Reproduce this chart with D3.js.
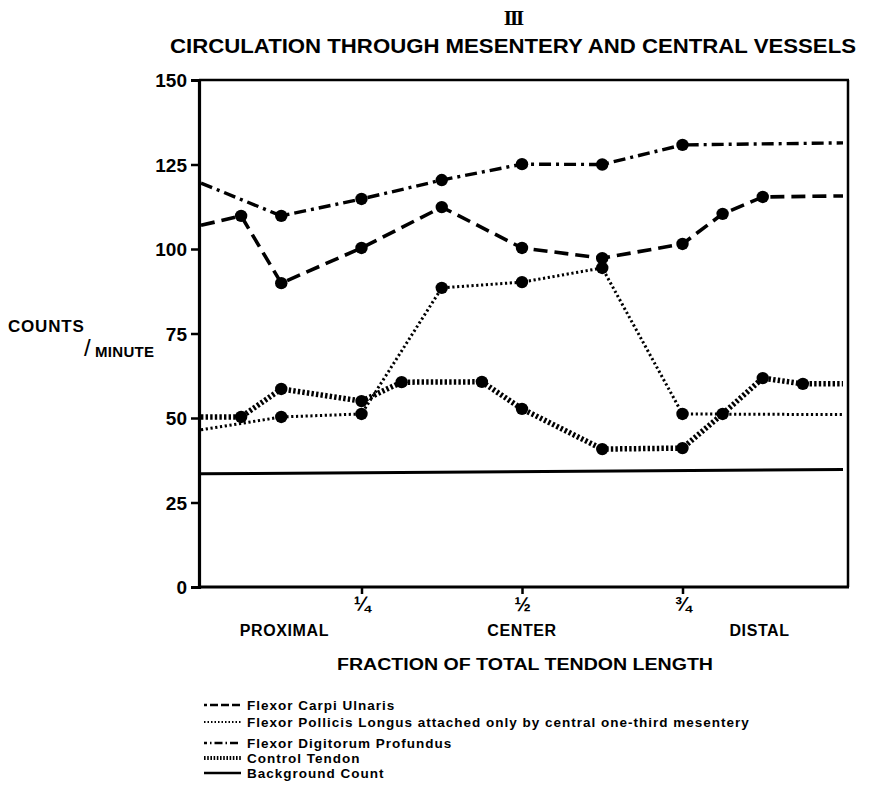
<!DOCTYPE html>
<html>
<head>
<meta charset="utf-8">
<script src="https://cdnjs.cloudflare.com/ajax/libs/d3/7.8.5/d3.min.js"></script>
<style>
  body { margin: 0; background: #fff; }
  text { font-family: "Liberation Sans", Arial, sans-serif; font-weight: bold; fill: #000; }
</style>
</head>
<body>
<div id="chart"></div>
<script>
// Data: x = fraction of tendon length, y = counts/minute
var fcuX = [0, 1/16, 1/8, 1/4, 3/8, 1/2, 5/8, 3/4, 13/16, 7/8, 1];
var fcuY = [107, 109.8, 89.9, 100.3, 112.4, 100.3, 97.3, 101.5, 110.4, 115.4, 115.7];

var fplX = [0, 1/8, 1/4, 3/8, 1/2, 5/8, 3/4, 1];
var fplY = [46.5, 50.3, 51.2, 88.5, 90.2, 94.4, 51.2, 51];

var fdpX = [0, 1/8, 1/4, 3/8, 1/2, 5/8, 3/4, 1];
var fdpY = [119.5, 109.8, 114.8, 120.4, 125.1, 125, 130.8, 131.4];

var ctlX = [0, 1/16, 1/8, 1/4, 5/16, 7/16, 1/2, 5/8, 3/4, 13/16, 7/8, 15/16, 1];
var ctlY = [50.3, 50.3, 58.6, 55, 60.6, 60.7, 52.7, 40.8, 41.1, 51.2, 61.8, 60.1, 60.1];

var bgX = [0, 1];
var bgY = [33.5, 34.8];

var yTicks = [0, 25, 50, 75, 100, 125, 150];
var xTicks = [1/4, 1/2, 3/4];
var xTickLabels = ["\u00BC", "\u00BD", "\u00BE"];
var regionLabels = ["PROXIMAL", "CENTER", "DISTAL"];
var regionPos = [0.13, 0.50, 0.87];

var seriesNames = [
  "Flexor Carpi Ulnaris",
  "Flexor Pollicis Longus attached only by central one-third mesentery",
  "Flexor Digitorum Profundus",
  "Control Tendon",
  "Background Count"
];

var width = 874, height = 787;

var svg = d3.select("#chart").append("svg")
  .attr("width", width)
  .attr("height", height);

var x = d3.scaleLinear().domain([0, 1]).range([201, 843]);
var y = d3.scaleLinear().domain([0, 150]).range([587, 80]);

// line styles, in legend order
var styles = [
  { x: fcuX, y: fcuY, width: 3.6, dash: "14,7", legendDash: "3,3,8,3,8,3,8,3", legendWidth: 2.6, dots: true },
  { x: fplX, y: fplY, width: 3, dash: "2.2,2.6", legendDash: "1.5,2", legendWidth: 2, dots: true },
  { x: fdpX, y: fdpY, width: 3.4, dash: "12,5,3,5", legendDash: "3,3,1.5,3,8,3,1.5,3,8,3", legendWidth: 2.6, dots: true },
  { x: ctlX, y: ctlY, width: 5.5, dash: "2.4,2.2", legendDash: "1.6,1.6", legendWidth: 4, dots: true },
  { x: bgX, y: bgY, width: 3, dash: null, legendDash: null, legendWidth: 2.6, dots: false }
];

// Title
svg.append("text")
  .attr("x", 513).attr("y", 25)
  .attr("text-anchor", "middle")
  .style("font-family", "'Liberation Serif', serif")
  .style("font-size", "21px")
  .style("letter-spacing", "-2px")
  .text("III");
svg.append("text")
  .attr("x", 513).attr("y", 53)
  .attr("text-anchor", "middle")
  .attr("textLength", 686)
  .attr("lengthAdjust", "spacingAndGlyphs")
  .style("font-size", "20px")
  .text("CIRCULATION THROUGH MESENTERY AND CENTRAL VESSELS");

// Frame (top and right sides)
var frame = svg.append("g").attr("class", "frame");
frame.append("line").attr("x1", 199).attr("x2", 849).attr("y1", y(150)).attr("y2", y(150))
  .attr("stroke", "#000").attr("stroke-width", 2.5);
frame.append("line").attr("x1", 848).attr("x2", 848).attr("y1", y(150)).attr("y2", y(0))
  .attr("stroke", "#000").attr("stroke-width", 2.5);

// Y axis
var yAxis = d3.axisLeft(y).tickValues(yTicks).tickSize(8).tickPadding(4).tickFormat(d3.format("d"));
var gy = svg.append("g")
  .attr("class", "y-axis")
  .attr("transform", "translate(199,0)")
  .call(yAxis);
gy.select(".domain").attr("stroke", "#000").attr("stroke-width", 3.2);
gy.selectAll(".tick line").attr("stroke", "#000").attr("stroke-width", 2.5);
gy.selectAll(".tick text")
  .style("font-family", "'Liberation Sans', Arial, sans-serif")
  .style("font-weight", "bold")
  .style("font-size", "19px")
  .attr("fill", "#000")
  .attr("dy", "0.36em");

// X axis, fraction tick labels
var xAxis = d3.axisBottom(x).tickValues(xTicks).tickSize(7).tickPadding(3)
  .tickFormat(function(d, i) { return xTickLabels[i]; });
var gx = svg.append("g")
  .attr("class", "x-axis")
  .attr("transform", "translate(0," + y(0) + ")")
  .call(xAxis);
gx.select(".domain").attr("stroke", "#000").attr("stroke-width", 3.2).attr("d", "M199,0H849");
gx.selectAll(".tick line").attr("stroke", "#000").attr("stroke-width", 2.5);
gx.selectAll(".tick text")
  .style("font-family", "'Liberation Sans', Arial, sans-serif")
  .style("font-weight", "bold")
  .style("font-size", "20px")
  .attr("fill", "#000");

// Region labels and axis title
svg.selectAll(".region")
  .data(regionLabels)
  .enter().append("text")
  .attr("class", "region")
  .attr("x", function(d, i) { return x(regionPos[i]); })
  .attr("y", 636)
  .attr("text-anchor", "middle")
  .style("font-size", "16px")
  .style("letter-spacing", "0.6px")
  .text(function(d) { return d; });

svg.append("text")
  .attr("x", 525).attr("y", 670)
  .attr("text-anchor", "middle")
  .attr("textLength", 376)
  .attr("lengthAdjust", "spacingAndGlyphs")
  .style("font-size", "16px")
  .text("FRACTION OF TOTAL TENDON LENGTH");

// Y axis title: COUNTS/MINUTE
svg.append("text").attr("x", 8).attr("y", 332)
  .style("font-size", "17px").style("letter-spacing", "0.8px").text("COUNTS");
svg.append("text").attr("x", 84).attr("y", 356)
  .style("font-size", "24px").style("font-weight", "normal").text("/");
svg.append("text").attr("x", 95).attr("y", 357)
  .style("font-size", "15px").style("letter-spacing", "0.3px").text("MINUTE");

// Series lines and dots
var plot = svg.append("g").attr("class", "plot");
styles.forEach(function(s, k) {
  var pts = s.x.map(function(v, i) { return [v, s.y[i]]; });
  var line = d3.line()
    .curve(d3.curveLinear)
    .x(function(d) { return x(d[0]); })
    .y(function(d) { return y(d[1]); });
  plot.append("path")
    .datum(pts)
    .attr("d", line)
    .attr("fill", "none")
    .attr("stroke", "#000")
    .attr("stroke-width", s.width)
    .attr("stroke-dasharray", s.dash);
  if (s.dots) {
    plot.selectAll(".dot" + k)
      .data(pts.filter(function(d) { return d[0] > 0 && d[0] < 1; }))
      .enter().append("circle")
      .attr("class", "dot" + k)
      .attr("cx", function(d) { return x(d[0]); })
      .attr("cy", function(d) { return y(d[1]); })
      .attr("r", 6.2)
      .attr("fill", "#000");
  }
});

// Legend
var legendY = [705, 722, 743, 758, 773];
var legend = svg.append("g").attr("class", "legend");
seriesNames.forEach(function(name, i) {
  var s = styles[i];
  legend.append("line")
    .attr("x1", 204).attr("x2", 241)
    .attr("y1", legendY[i]).attr("y2", legendY[i])
    .attr("stroke", "#000")
    .attr("stroke-width", s.legendWidth)
    .attr("stroke-dasharray", s.legendDash);
  legend.append("text")
    .attr("x", 247).attr("y", legendY[i] + 5)
    .style("font-size", "13.5px")
    .style("letter-spacing", "1px")
    .text(name);
});
</script>
</body>
</html>
